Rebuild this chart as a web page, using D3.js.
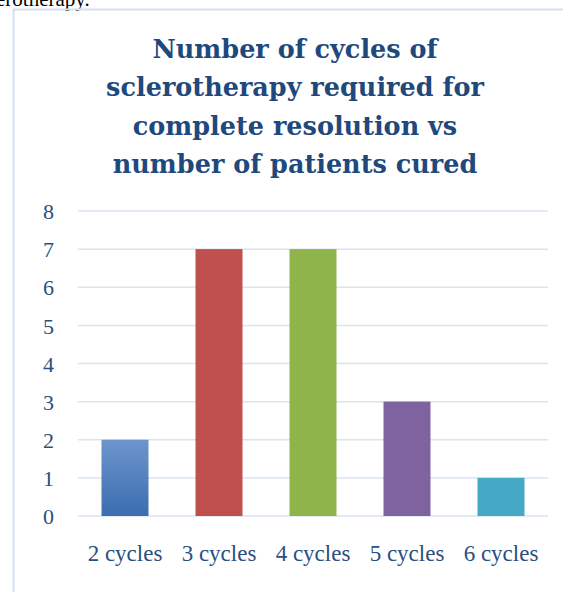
<!DOCTYPE html>
<html>
<head>
<meta charset="utf-8">
<script src="https://cdn.jsdelivr.net/npm/d3@7"></script>
<style>
  body { margin: 0; background: #fff; }
  svg { display: block; }
</style>
</head>
<body>
<div class="chart"></div>
<script>
// chart data
const categories = ["2 cycles", "3 cycles", "4 cycles", "5 cycles", "6 cycles"];
const patients = [2, 7, 7, 3, 1];
const barColors = ["url(#blueGrad)", "#c0504d", "#8fb44b", "#7f62a0", "#45a9c6"];
const yTicks = [0, 1, 2, 3, 4, 5, 6, 7, 8];
const titleLines = ["Number of cycles of", "sclerotherapy required for", "complete resolution vs", "number of patients cured"];

const width = 563, height = 592;

const svg = d3.select(".chart").append("svg")
  .attr("width", width)
  .attr("height", height);

const defs = svg.append("defs");
const grad = defs.append("linearGradient")
  .attr("id", "blueGrad")
  .attr("x1", 0).attr("y1", 0).attr("x2", 0).attr("y2", 1);
grad.append("stop").attr("offset", "0%").attr("stop-color", "#6d95cc");
grad.append("stop").attr("offset", "100%").attr("stop-color", "#3b6db0");

// leftover text from the page above the chart
svg.append("text")
  .attr("x", -4).attr("y", 6)
  .attr("font-family", "Liberation Serif, serif")
  .attr("font-size", 21)
  .attr("fill", "#000")
  .text("erotherapy.");

// chart frame
svg.append("rect")
  .attr("x", 13.5).attr("y", 9.5)
  .attr("width", 600).attr("height", 620)
  .attr("fill", "none")
  .attr("stroke", "#d5e0ef")
  .attr("stroke-width", 2);

// title
const title = svg.append("text")
  .attr("text-anchor", "middle")
  .attr("font-family", "DejaVu Serif, serif")
  .attr("font-weight", "bold")
  .attr("font-size", 25.5)
  .attr("fill", "#1f497d");
title.selectAll("tspan")
  .data(titleLines)
  .enter().append("tspan")
  .attr("x", 295)
  .attr("y", (d, i) => 58 + i * 38.3)
  .text(d => d);

const margin = { left: 78, right: 548, top: 211, bottom: 516 };

const x = d3.scaleBand()
  .domain(categories)
  .range([margin.left, margin.right])
  .paddingInner(0.5)
  .paddingOuter(0.25);

const y = d3.scaleLinear()
  .domain([0, 8])
  .range([margin.bottom, margin.top]);

// gridlines
svg.append("g")
  .selectAll("line")
  .data(yTicks)
  .enter().append("line")
  .attr("x1", margin.left).attr("x2", margin.right)
  .attr("y1", d => y(d)).attr("y2", d => y(d))
  .attr("stroke", "#d9e3f1")
  .attr("stroke-width", 1.5);

// y axis labels
const yAxis = svg.append("g")
  .attr("transform", `translate(${margin.left},0)`)
  .call(d3.axisLeft(y).tickValues(yTicks).tickSize(0).tickPadding(24));
yAxis.select(".domain").remove();
yAxis.selectAll("text")
  .attr("font-family", "Liberation Serif, serif")
  .attr("font-size", 22)
  .attr("fill", "#2a4f80")
  .attr("dy", "0.35em");

// bars
svg.append("g")
  .selectAll("rect")
  .data(patients)
  .enter().append("rect")
  .attr("x", (d, i) => x(categories[i]))
  .attr("width", x.bandwidth())
  .attr("y", d => y(d))
  .attr("height", d => y(0) - y(d))
  .attr("fill", (d, i) => barColors[i]);

// x axis labels
const xAxis = svg.append("g")
  .attr("transform", `translate(0,${margin.bottom})`)
  .call(d3.axisBottom(x).tickSize(0).tickPadding(29));
xAxis.select(".domain").remove();
xAxis.selectAll("text")
  .attr("font-family", "Liberation Serif, serif")
  .attr("font-size", 23)
  .attr("fill", "#2a4f80");
</script>
</body>
</html>
